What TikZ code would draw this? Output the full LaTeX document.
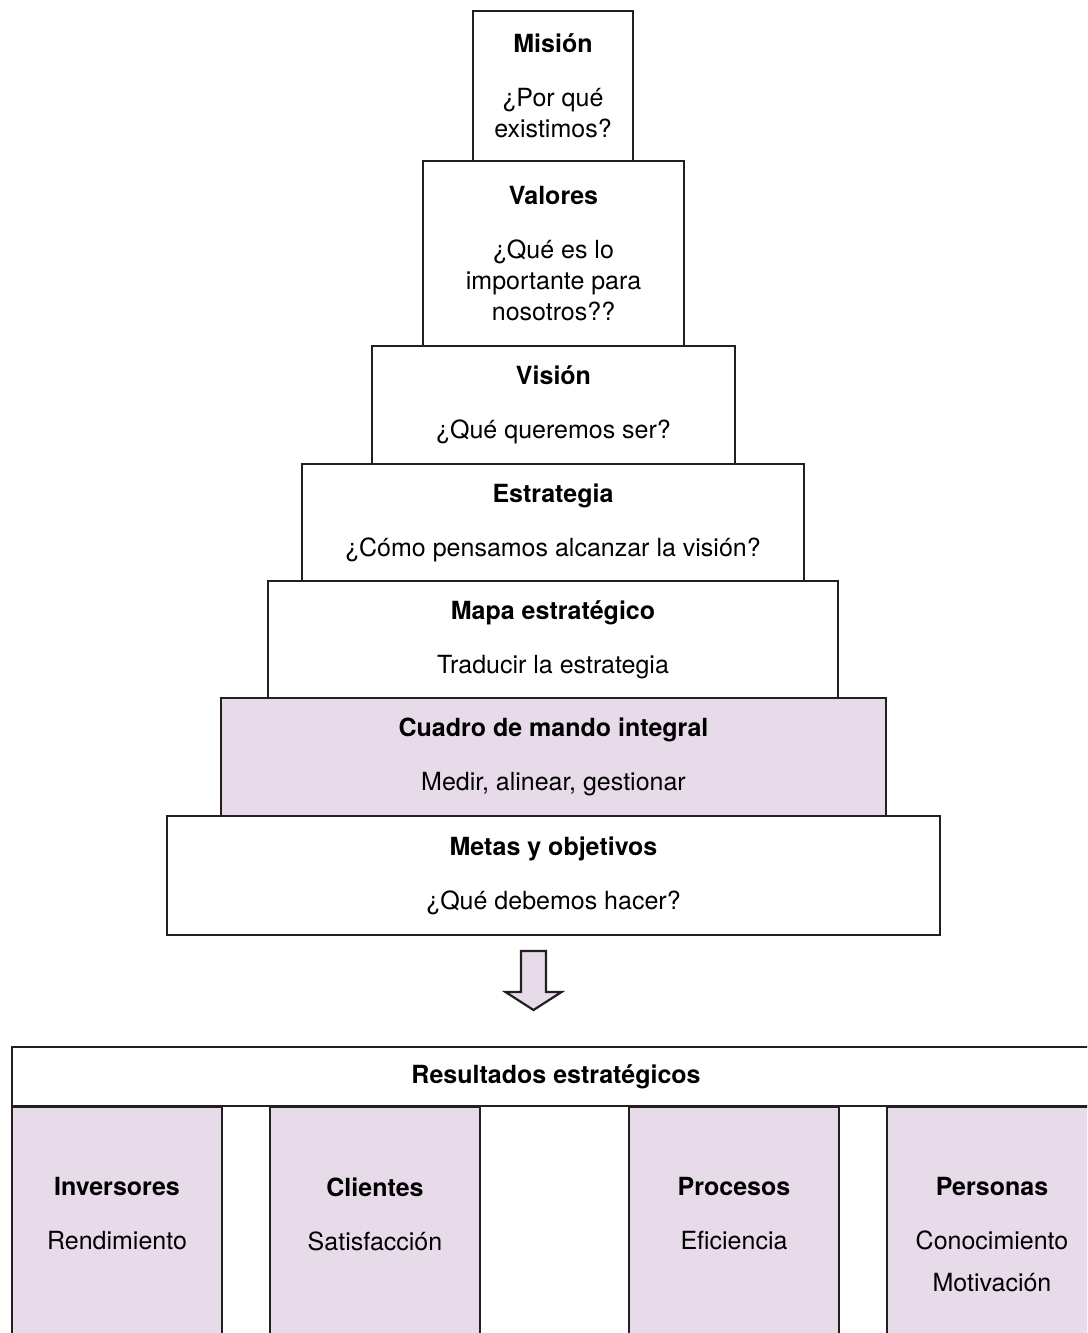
\documentclass[tikz,border=0pt]{standalone}
\usepackage{fontspec}
\setmainfont{TeX Gyre Heros}

\definecolor{lila}{RGB}{231,219,233}
\definecolor{borde}{RGB}{35,31,32}

\tikzset{
  letra/.style={font=\fontsize{12.5}{15.5}\selectfont},
  nivel/.style={letra, draw=borde, line width=1.1pt, align=center,
    inner sep=0pt, outer sep=0pt},
  lleno/.style={fill=lila},
  texto/.style={letra, align=center, inner sep=0pt},
}

\begin{document}
\begin{tikzpicture}[x=0.5pt, y=-0.5pt, line join=miter]
  % --- Marco (unidades = px de la imagen, y hacia abajo) ---
  \clip (0,0) rectangle (1087,1333);

  % --- Pirámide ---
  \node[nivel, minimum width=80pt, minimum height=75pt] (mision) at (553,86)
    {\textbf{Misión}\\[11.5pt]¿Por qué\\existimos?};
  \node[nivel, minimum width=130.5pt, minimum height=92.5pt] (valores) at (553.5,253.5)
    {\textbf{Valores}\\[11.5pt]¿Qué es lo\\importante para\\nosotros??};
  \node[nivel, minimum width=181.5pt, minimum height=59pt] (vision) at (553.5,405)
    {\textbf{Visión}\\[11.5pt]¿Qué queremos ser?};
  \node[nivel, minimum width=251pt, minimum height=58.5pt] (estrategia) at (553,522.5)
    {\textbf{Estrategia}\\[11.5pt]¿Cómo pensamos alcanzar la visión?};
  \node[nivel, minimum width=285pt, minimum height=58.5pt] (mapa) at (553,639.5)
    {\textbf{Mapa estratégico}\\[11.5pt]Traducir la estrategia};
  \node[nivel, lleno, minimum width=332.5pt, minimum height=59pt] (cuadro) at (553.5,757)
    {\textbf{Cuadro de mando integral}\\[11.5pt]Medir, alinear, gestionar};
  \node[nivel, minimum width=386.5pt, minimum height=59.5pt] (metas) at (553.5,875.5)
    {\textbf{Metas y objetivos}\\[11.5pt]¿Qué debemos hacer?};

  % --- Flecha hacia abajo ---
  \coordinate (flecha) at (533.5,951);
  \draw[draw=borde, fill=lila, line width=1.1pt]
    (flecha) ++(-12.5,0) -- ++(0,41) -- ++(-15.5,0) -- ++(28,18)
    -- ++(28,-18) -- ++(-15.5,0) -- ++(0,-41) -- cycle;

  % --- Resultados ---
  \node[nivel, minimum width=544pt, minimum height=29.5pt] (resultados) at (556,1076.5)
    {\textbf{Resultados estratégicos}};

  % --- Columnas ---
  \foreach \cx/\nm/\tit/\sub in {117/inv/Inversores/Rendimiento,
      375/cli/Clientes/Satisfacción, 734/pro/Procesos/Eficiencia,
      992/per/Personas/{Conocimiento\\[5.5pt]Motivación}} {
    \node[nivel, lleno, minimum width=105pt, minimum height=127pt] (\nm) at (\cx,1233.5) {};
    \node[texto, anchor=north] (\nm-t) at (\cx,1177) {\textbf{\tit}\\[11.5pt]\sub};
  }
\end{tikzpicture}
\end{document}
